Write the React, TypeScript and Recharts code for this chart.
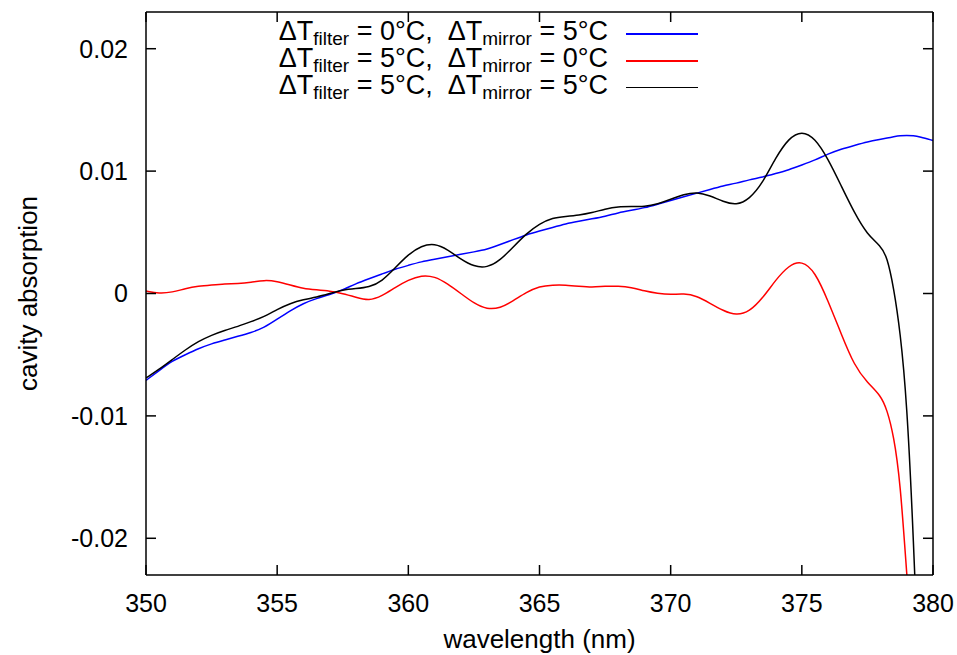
import React from 'react';
import { LineChart, Line, XAxis, YAxis, Legend } from 'recharts';

const wavelengths = [
  350, 350.5, 351, 351.5, 352, 352.5, 353, 353.5, 354, 354.5,
  355, 355.5, 356, 356.5, 357, 357.5, 358, 358.5, 359, 359.5,
  360, 360.5, 361, 361.5, 362, 362.5, 363, 363.5, 364, 364.5,
  365, 365.5, 366, 366.5, 367, 367.5, 368, 368.5, 369, 369.5,
  370, 370.5, 371, 371.5, 372, 372.5, 373, 373.5, 374, 374.5,
  375, 375.5, 376, 376.5, 377, 377.5, 378,
  378.25, 378.5, 378.75, 379, 379.25, 379.5, 380,
];

// ΔT_filter = 0°C, ΔT_mirror = 5°C
const blueSeries = [
  -0.0071, -0.0063, -0.0055, -0.0050, -0.0045, -0.0041, -0.0038, -0.0035, -0.0032, -0.0028,
  -0.0021, -0.0014, -0.0008, -0.0004, -0.0001, 0.0003, 0.0008, 0.0012, 0.0016, 0.0020,
  0.0023, 0.0026, 0.0028, 0.0030, 0.0032, 0.0034, 0.0036, 0.0040, 0.0044, 0.0048,
  0.0051, 0.0054, 0.0057, 0.0059, 0.0061, 0.0063, 0.0066, 0.0068, 0.0070, 0.0073,
  0.0076, 0.0079, 0.0082, 0.0085, 0.0088, 0.0090, 0.0093, 0.0095, 0.0098, 0.0101,
  0.0105, 0.0109, 0.0114, 0.0118, 0.0121, 0.0124, 0.0126,
  0.0127, 0.0128, 0.0129, 0.0129, 0.0129, 0.0128, 0.0125,
];

// ΔT_filter = 5°C, ΔT_mirror = 0°C
const redSeries = [
  0.0002, 0.0000, 0.0001, 0.0004, 0.0006, 0.0007, 0.0008, 0.0008, 0.0009, 0.0011,
  0.0010, 0.0007, 0.0004, 0.0003, 0.0002, 0.0000, -0.0003, -0.0006, -0.0002, 0.0005,
  0.0011, 0.0015, 0.0014, 0.0008, 0.0000, -0.0008, -0.0013, -0.0012, -0.0006, 0.0001,
  0.0006, 0.0007, 0.0007, 0.0006, 0.0005, 0.0006, 0.0006, 0.0005, 0.0002, 0.0000,
  -0.0001, 0.0000, -0.0002, -0.0008, -0.0014, -0.0018, -0.0015, -0.0004, 0.0011, 0.0023,
  0.0027, 0.0018, -0.0006, -0.0033, -0.0059, -0.0073, -0.0083,
  -0.0095, -0.0116, -0.0153, -0.0230, -0.0300, null, null,
];

// ΔT_filter = 5°C, ΔT_mirror = 5°C
const blackSeries = [
  -0.0069, -0.0062, -0.0054, -0.0046, -0.0039, -0.0034, -0.0030, -0.0027, -0.0023, -0.0019,
  -0.0013, -0.0008, -0.0005, -0.0003, 0.0000, 0.0003, 0.0004, 0.0005, 0.0010, 0.0021,
  0.0032, 0.0039, 0.0041, 0.0036, 0.0028, 0.0022, 0.0021, 0.0027, 0.0038, 0.0049,
  0.0057, 0.0062, 0.0063, 0.0064, 0.0066, 0.0069, 0.0071, 0.0071, 0.0071, 0.0073,
  0.0077, 0.0081, 0.0083, 0.0080, 0.0075, 0.0072, 0.0077, 0.0090, 0.0111, 0.0127,
  0.0133, 0.0127, 0.0110, 0.0088, 0.0066, 0.0048, 0.0039,
  0.0030, 0.0005, -0.0031, -0.0087, -0.0196, -0.0340, null,
];

const xTicks = [350, 355, 360, 365, 370, 375, 380];
const yTicks = [-0.02, -0.01, 0, 0.01, 0.02];
const yTickLabels: Record<string, string> = {
  '-0.02': '-0.02',
  '-0.01': '-0.01',
  '0': '0',
  '0.01': '0.01',
  '0.02': '0.02',
};

const seriesMeta = [
  { key: 'blue', filter: '0', mirror: '5', color: '#0000ff' },
  { key: 'red', filter: '5', mirror: '0', color: '#ff0000' },
  { key: 'black', filter: '5', mirror: '5', color: '#000000' },
];

const data = wavelengths.map((w, i) => ({
  w,
  blue: blueSeries[i],
  red: redSeries[i],
  black: blackSeries[i],
}));

const FONT = '"Liberation Sans", Arial, Helvetica, sans-serif';
const W = 957;
const H = 655;

const tickStyle = { fontSize: 25, fill: '#000', fontFamily: FONT };
const lineStyle = { stroke: '#000', strokeWidth: 1.5 };

const renderLegend = () => (
  <div style={{ position: 'relative', width: W, height: 110, fontFamily: FONT, color: '#000' }}>
    {seriesMeta.map((s, i) => {
      const base = 41 + 26.8 * i;
      return (
        <React.Fragment key={s.key}>
          <div
            style={{
              position: 'absolute',
              right: W - 608,
              top: base - 23,
              fontSize: 27,
              lineHeight: '27px',
              whiteSpace: 'pre',
            }}
          >
            ΔT
            <span style={{ fontSize: 19, verticalAlign: '-5px', lineHeight: 0 }}>filter</span>
            {` = ${s.filter}°C,  ΔT`}
            <span style={{ fontSize: 19, verticalAlign: '-5px', lineHeight: 0 }}>mirror</span>
            {` = ${s.mirror}°C`}
          </div>
          <div
            style={{
              position: 'absolute',
              left: 626,
              top: base - 7.75,
              width: 72,
              height: 1.5,
              background: s.color,
            }}
          />
        </React.Fragment>
      );
    })}
  </div>
);

const YTitle = (props: any) => {
  const vb = props.viewBox || { x: 0, y: 0, width: 146, height: 563 };
  const cx = vb.x + 28;
  const cy = vb.y + vb.height / 2;
  return (
    <text
      x={cx}
      y={cy}
      transform={`rotate(-90 ${cx} ${cy})`}
      textAnchor="middle"
      dominantBaseline="central"
      fontSize={26}
      fontFamily={FONT}
      fill="#000"
    >
      cavity absorption
    </text>
  );
};

const XTitle = (props: any) => {
  const vb = props.viewBox || { x: 146, y: 575, width: 787, height: 80 };
  return (
    <text
      x={vb.x + vb.width / 2}
      y={vb.y + vb.height - 7}
      textAnchor="middle"
      fontSize={26}
      fontFamily={FONT}
      fill="#000"
    >
      wavelength (nm)
    </text>
  );
};

export default function App() {
  return (
    <div style={{ position: 'absolute', left: 0, top: 0, width: W, height: H, background: '#fff' }}>
      <LineChart
        width={W}
        height={H}
        data={data}
        margin={{ top: 11, right: 23, bottom: 0, left: 0 }}
      >
        <XAxis
          xAxisId="b"
          dataKey="w"
          type="number"
          domain={[350, 380]}
          ticks={xTicks}
          height={80}
          tickSize={-10}
          tickMargin={29}
          tick={tickStyle}
          axisLine={lineStyle}
          tickLine={lineStyle}
          allowDataOverflow
          label={{ content: XTitle }}
        />
        <XAxis
          xAxisId="t"
          orientation="top"
          dataKey="w"
          type="number"
          domain={[350, 380]}
          ticks={xTicks}
          height={1}
          tickSize={-10}
          tickMargin={0}
          tickFormatter={() => ''}
          axisLine={lineStyle}
          tickLine={lineStyle}
          allowDataOverflow
        />
        <YAxis
          yAxisId="l"
          type="number"
          domain={[-0.023, 0.023]}
          ticks={yTicks}
          width={146}
          tickSize={-10}
          tickMargin={28}
          tick={tickStyle}
          tickFormatter={(v: number) => yTickLabels[String(v)] ?? String(v)}
          axisLine={lineStyle}
          tickLine={lineStyle}
          allowDataOverflow
          label={{ content: YTitle }}
        />
        <YAxis
          yAxisId="r"
          orientation="right"
          type="number"
          domain={[-0.023, 0.023]}
          ticks={yTicks}
          width={1}
          tickSize={-10}
          tickMargin={0}
          tickFormatter={() => ''}
          axisLine={lineStyle}
          tickLine={lineStyle}
          allowDataOverflow
        />
        <Legend
          layout="vertical"
          align="center"
          verticalAlign="middle"
          wrapperStyle={{ top: 0, left: 0, width: W, height: 110 }}
          content={renderLegend}
        />
        <Line
          xAxisId="t"
          yAxisId="r"
          dataKey="blue"
          stroke="none"
          strokeWidth={0}
          dot={false}
          activeDot={false}
          legendType="none"
          isAnimationActive={false}
        />
        {seriesMeta.map((s) => (
          <Line
            key={s.key}
            xAxisId="b"
            yAxisId="l"
            dataKey={s.key}
            name={`ΔT filter = ${s.filter}°C, ΔT mirror = ${s.mirror}°C`}
            type="basis"
            stroke={s.color}
            strokeWidth={1.5}
            dot={false}
            activeDot={false}
            isAnimationActive={false}
          />
        ))}
      </LineChart>
    </div>
  );
}
